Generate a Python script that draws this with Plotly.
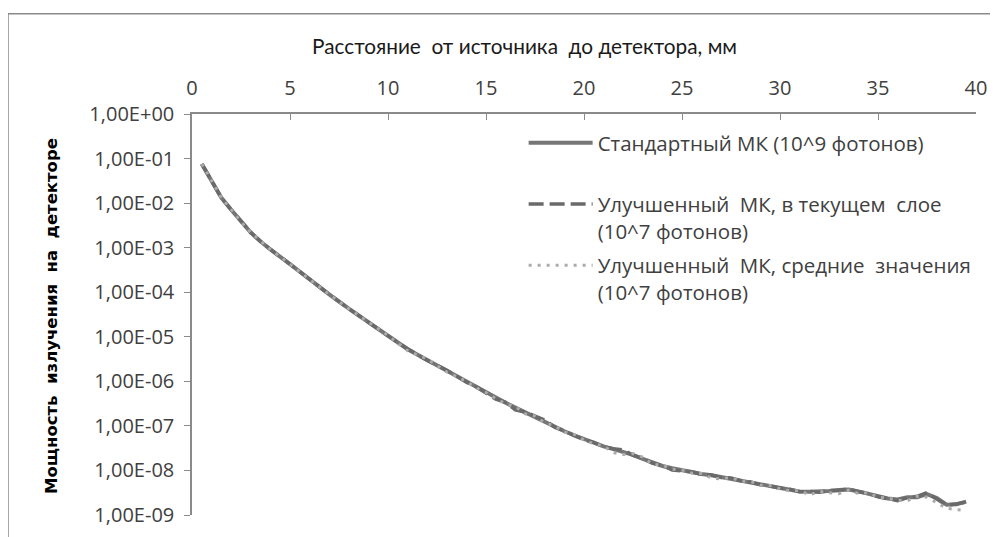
import plotly.graph_objects as go

# distance from source to detector, mm
distance_mm = [0.5, 1.0, 1.5, 2.0, 2.5, 3.0, 3.5, 4.0, 5.0, 6.0, 7.0, 8.0, 9.0, 10.0,
               11.0, 12.0, 13.0, 14.0, 14.5, 15.0, 15.5, 16.0, 16.5, 17.0, 17.5, 18.0,
               18.5, 19.0, 19.5, 20.0, 20.5, 21.0, 21.5, 22.0, 22.5, 23.0, 23.5, 24.0,
               24.5, 25.0, 25.5, 26.0, 26.5, 27.0, 27.5, 28.0, 28.5, 29.0, 29.5, 30.0,
               30.5, 31.0, 31.5, 32.0, 32.5, 33.0, 33.5, 34.0, 34.5, 35.0, 35.5, 36.0,
               36.5, 37.0, 37.5, 38.0, 38.5, 39.0, 39.5]

# detector power, read as decimal exponents (log10) from the log axis
standard_log10 = [-1.12, -1.50, -1.88, -2.15, -2.42, -2.66, -2.86, -3.04, -3.37, -3.72, -4.05,
                  -4.37, -4.68, -4.98, -5.28, -5.52, -5.76, -6.01, -6.13, -6.26, -6.38, -6.48,
                  -6.59, -6.70, -6.80, -6.91, -7.02, -7.12, -7.21, -7.30, -7.38, -7.46, -7.52,
                  -7.58, -7.65, -7.74, -7.83, -7.90, -7.95, -8.00, -8.04, -8.08, -8.11, -8.15,
                  -8.18, -8.22, -8.27, -8.31, -8.36, -8.39, -8.43, -8.47, -8.48, -8.48, -8.46,
                  -8.44, -8.43, -8.47, -8.52, -8.58, -8.63, -8.65, -8.60, -8.60, -8.53, -8.62,
                  -8.77, -8.76, -8.70]

layer_log10 = [-1.12, -1.50, -1.88, -2.15, -2.42, -2.66, -2.86, -3.04, -3.37, -3.72, -4.05,
               -4.37, -4.68, -4.98, -5.27, -5.53, -5.75, -6.02, -6.12, -6.27, -6.40, -6.47,
               -6.64, -6.69, -6.79, -6.87, -7.03, -7.11, -7.22, -7.31, -7.37, -7.47, -7.51,
               -7.54, -7.66, -7.73, -7.84, -7.89, -7.99, -8.01, -8.03, -8.09, -8.10, -8.16,
               -8.17, -8.23, -8.26, -8.32, -8.35, -8.40, -8.42, -8.48, -8.47, -8.49, -8.45,
               -8.45, -8.41, -8.48, -8.51, -8.59, -8.64, -8.68, -8.61, -8.58, -8.50, -8.63,
               -8.78, -8.75, -8.71]

mean_log10 = [-1.12, -1.50, -1.88, -2.15, -2.42, -2.66, -2.86, -3.04, -3.37, -3.72, -4.05,
              -4.37, -4.68, -4.97, -5.31, -5.50, -5.79, -6.00, -6.15, -6.25, -6.39, -6.50,
              -6.57, -6.73, -6.78, -6.93, -7.00, -7.14, -7.19, -7.32, -7.40, -7.45, -7.60,
              -7.64, -7.62, -7.70, -7.86, -7.88, -7.97, -7.99, -8.06, -8.07, -8.17, -8.19,
              -8.16, -8.24, -8.25, -8.33, -8.34, -8.41, -8.46, -8.45, -8.55, -8.47, -8.50,
              -8.52, -8.44, -8.52, -8.50, -8.60, -8.62, -8.67, -8.68, -8.58, -8.60, -8.72,
              -8.85, -8.88, -8.90]

series_names = ["Стандартный МК (10^9 фотонов)<br> ",
                "Улучшенный\u00a0 МК, в текущем\u00a0 слое<br>(10^7 фотонов)",
                "Улучшенный\u00a0 МК, средние\u00a0 значения<br>(10^7 фотонов)"]

x_ticks = [0, 5, 10, 15, 20, 25, 30, 35, 40]
y_tickvals = [1e0, 1e-1, 1e-2, 1e-3, 1e-4, 1e-5, 1e-6, 1e-7, 1e-8, 1e-9]
y_ticktext = ["1,00E+00", "1,00E-01", "1,00E-02", "1,00E-03", "1,00E-04",
              "1,00E-05", "1,00E-06", "1,00E-07", "1,00E-08", "1,00E-09"]

x_title = "Расстояние\u00a0 от источника\u00a0 до детектора, мм"
y_title = "Мощность\u00a0 излучения\u00a0 на\u00a0 детекторе"


def to_power(exps):
    return [10 ** e for e in exps]


fig = go.Figure()
fig.add_trace(go.Scatter(x=distance_mm, y=to_power(standard_log10), mode="lines",
                         name=series_names[0], legendgroup="a",
                         line=dict(color="#767676", width=4)))
fig.add_trace(go.Scatter(x=distance_mm, y=to_power(layer_log10), mode="lines",
                         name=series_names[1], legendgroup="b",
                         line=dict(color="#6a6a6a", width=3.5, dash="15px,6px")))
fig.add_trace(go.Scatter(x=distance_mm, y=to_power(mean_log10), mode="lines",
                         name=series_names[2], legendgroup="c",
                         line=dict(color="#ababab", width=3, dash="3px,6px")))

tick_font = dict(family="Open Sans", size=20, color="#404040")
axis_col = "#8a8a8a"

fig.update_layout(
    width=990, height=529,
    margin=dict(l=184, r=22, t=106, b=22),
    paper_bgcolor="white", plot_bgcolor="white",
    showlegend=True,
    legend=dict(x=0.423, y=0.978, xanchor="left", yanchor="top", valign="top",
                font=dict(family="Open Sans", size=20.5, color="#404040"),
                bgcolor="rgba(0,0,0,0)", itemwidth=64, tracegroupgap=5,
                traceorder="grouped"),
    xaxis=dict(range=[0, 40], side="top", tickvals=x_ticks, ticks="inside",
               ticklen=6, tickcolor=axis_col, showline=True, linecolor=axis_col,
               linewidth=1.5, showgrid=False, zeroline=False, tickfont=tick_font,
               ticklabelstandoff=9, automargin=False),
    yaxis=dict(type="log", range=[-9, 0], tickvals=y_tickvals, ticktext=y_ticktext,
               ticks="outside", ticklen=6, tickcolor=axis_col, showline=True,
               linecolor=axis_col, linewidth=1.5, showgrid=False, zeroline=False,
               tickfont=tick_font, ticklabelstandoff=6, automargin=False),
    annotations=[
        dict(text=x_title, xref="paper", yref="paper", x=0.4247, y=1.172,
             xanchor="center", yanchor="middle", showarrow=False,
             font=dict(family="Lato", size=20.8, color="#1a1a1a")),
        dict(text="<b>" + y_title + "</b>", xref="paper", yref="paper", x=-0.18, y=0.496,
             xanchor="center", yanchor="middle", textangle=-90, showarrow=False,
             font=dict(family="DejaVu Sans", size=16.5, color="#000000")),
    ],
    shapes=[dict(type="rect", xref="paper", yref="paper", x0=-0.2347, y0=-0.08,
                 x1=1.03, y1=1.25, line=dict(color="#8a8a8a", width=1.5),
                 fillcolor="rgba(0,0,0,0)", layer="below")],
)

fig.write_html("out.html")
